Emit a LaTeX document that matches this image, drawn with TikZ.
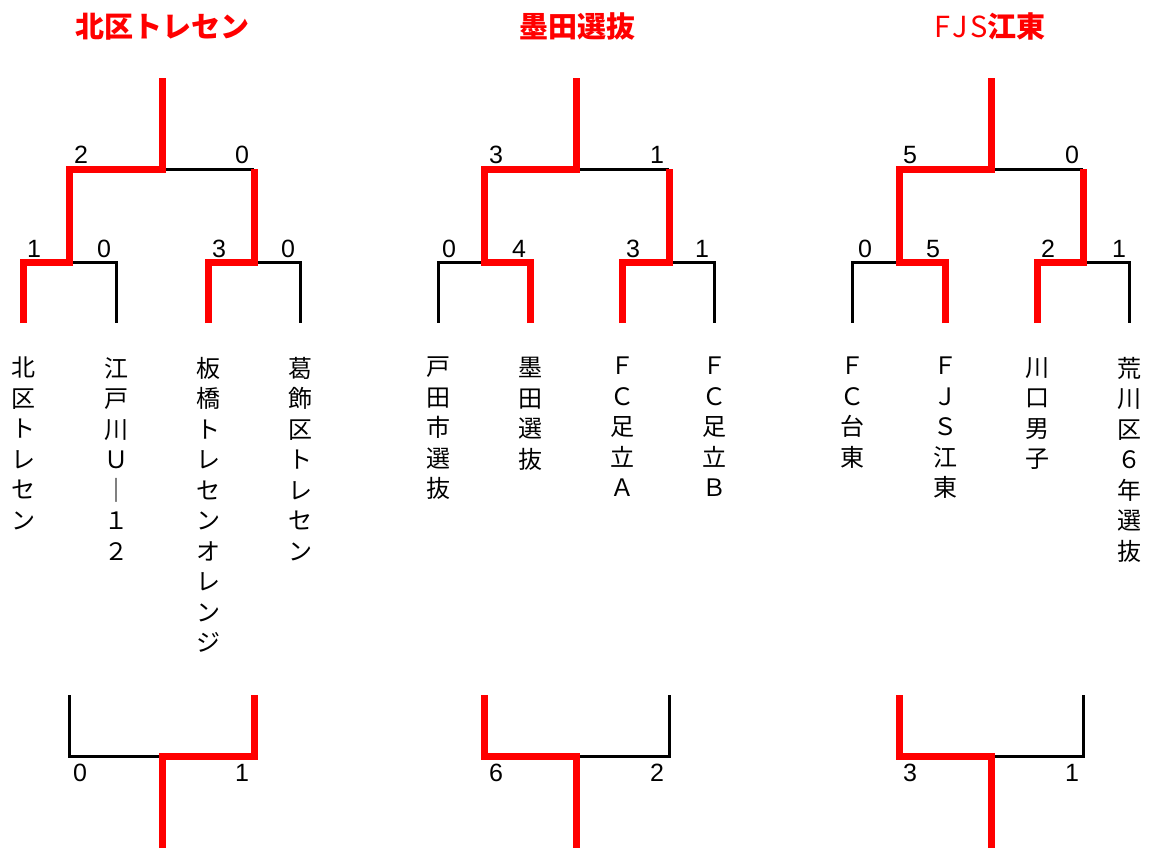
\documentclass[tikz,border=0pt]{standalone}
\usepackage{fontspec}
\setmainfont{Liberation Sans}
\newfontfamily\jp{Noto Sans CJK JP}
\newcommand\defbracket[8]{%
  \coordinate (#1-1) at (#2,323); \coordinate (#1-1u) at (#2,262);
  \coordinate (#1-2) at (#3,323); \coordinate (#1-2u) at (#3,262);
  \coordinate (#1-3) at (#4,323); \coordinate (#1-3u) at (#4,262);
  \coordinate (#1-4) at (#5,323); \coordinate (#1-4u) at (#5,262);
  \coordinate (#1-j1) at (#6,262); \coordinate (#1-j1u) at (#6,169);
  \coordinate (#1-j2) at (#7,262); \coordinate (#1-j2u) at (#7,169);
  \coordinate (#1-t) at (#8,169); \coordinate (#1-tu) at (#8,78);
  \coordinate (#1-fl) at (#6,695); \coordinate (#1-flb) at (#6,756);
  \coordinate (#1-fr) at (#7,695); \coordinate (#1-frb) at (#7,756);
  \coordinate (#1-fc) at (#8,756); \coordinate (#1-fcb) at (#8,850);
}
\begin{document}
\begin{tikzpicture}[x=1pt,y=-1pt,
  win/.style={draw=red,line width=7pt,line join=miter},
  lose/.style={draw=black,line width=3pt,line join=miter},
  score/.style={font=\fontsize{25}{30}\selectfont,anchor=base,inner sep=0},
  team/.style={font=\jp\fontsize{24}{30.5}\selectfont,anchor=north,inner sep=0,align=center,
    execute at begin node={\vphantom{国}}},
  title/.style={font=\jp\bfseries\fontsize{29}{34}\selectfont,text=red,anchor=base,inner sep=0}]
\useasboundingbox (0,0) rectangle (1149,847);

\defbracket{A}{23}{116}{208}{300}{69}{254}{162}
\defbracket{B}{438}{530}{622}{714}{484}{669}{576}
\defbracket{C}{852}{945}{1037}{1129}{899}{1083}{991}

% titles
\node[title] (tA) at (162,37.5) {北区トレセン};
\node[title] (tB) at (577,37.5) {墨田選抜};
\node[title] (tC) at (990,37.5) {{\mdseries F\kern2pt J\kern2pt S}江東};

% bracket A
\draw[lose] (A-j1) -- (A-2u) -- (A-2);
\draw[lose] (A-j2) -- (A-4u) -- (A-4);
\draw[lose] (A-t) -- (A-j2u);
\draw[win] (A-1) -- (A-1u) -- (A-j1) -- (A-j1u) -- (A-t) -- (A-tu);
\draw[win] (A-3) -- (A-3u) -- (A-j2) -- (A-j2u);
\draw[lose] (A-fl) -- (A-flb) -- (A-fc);
\draw[win] (A-fr) -- (A-frb) -- (A-fc) -- (A-fcb);

% bracket B
\draw[lose] (B-j1) -- (B-1u) -- (B-1);
\draw[lose] (B-j2) -- (B-4u) -- (B-4);
\draw[lose] (B-t) -- (B-j2u);
\draw[win] (B-2) -- (B-2u) -- (B-j1) -- (B-j1u) -- (B-t) -- (B-tu);
\draw[win] (B-3) -- (B-3u) -- (B-j2) -- (B-j2u);
\draw[lose] (B-fr) -- (B-frb) -- (B-fc);
\draw[win] (B-fl) -- (B-flb) -- (B-fc) -- (B-fcb);

% bracket C
\draw[lose] (C-j1) -- (C-1u) -- (C-1);
\draw[lose] (C-j2) -- (C-4u) -- (C-4);
\draw[lose] (C-t) -- (C-j2u);
\draw[win] (C-2) -- (C-2u) -- (C-j1) -- (C-j1u) -- (C-t) -- (C-tu);
\draw[win] (C-3) -- (C-3u) -- (C-j2) -- (C-j2u);
\draw[lose] (C-fr) -- (C-frb) -- (C-fc);
\draw[win] (C-fl) -- (C-flb) -- (C-fc) -- (C-fcb);

% scores A
\node[score] (sA1) at (81,163) {2};
\node[score] (sA2) at (242,163) {0};
\node[score] (sA3) at (34,257) {1};
\node[score] (sA4) at (104,257) {0};
\node[score] (sA5) at (219,257) {3};
\node[score] (sA6) at (288,257) {0};
\node[score] (sA7) at (80,781) {0};
\node[score] (sA8) at (242,781) {1};
% scores B
\node[score] (sB1) at (496,163) {3};
\node[score] (sB2) at (657,163) {1};
\node[score] (sB3) at (449,257) {0};
\node[score] (sB4) at (519,257) {4};
\node[score] (sB5) at (633,257) {3};
\node[score] (sB6) at (702,257) {1};
\node[score] (sB7) at (496,781) {6};
\node[score] (sB8) at (657,781) {2};
% scores C
\node[score] (sC1) at (910,163) {5};
\node[score] (sC2) at (1072,163) {0};
\node[score] (sC3) at (865,257) {0};
\node[score] (sC4) at (933,257) {5};
\node[score] (sC5) at (1048,257) {2};
\node[score] (sC6) at (1119,257) {1};
\node[score] (sC7) at (910,781) {3};
\node[score] (sC8) at (1072,781) {1};

% teams
\node[team] (nA1) at (23,357) {北\\区\\ト\\レ\\セ\\ン};
\node[team] (nA2) at (116,357) {江\\戸\\川\\Ｕ\\｜\\１\\２};
\node[team] (nA3) at (208,357) {板\\橋\\ト\\レ\\セ\\ン\\オ\\レ\\ン\\ジ};
\node[team] (nA4) at (300,357) {葛\\飾\\区\\ト\\レ\\セ\\ン};
\node[team] (nB1) at (438,357) {戸\\田\\市\\選\\抜};
\node[team] (nB2) at (530,357) {墨\\田\\選\\抜};
\node[team] (nB3) at (622,357) {Ｆ\\Ｃ\\足\\立\\Ａ};
\node[team] (nB4) at (714,357) {Ｆ\\Ｃ\\足\\立\\Ｂ};
\node[team] (nC1) at (852,357) {Ｆ\\Ｃ\\台\\東};
\node[team] (nC2) at (945,357) {Ｆ\\Ｊ\\Ｓ\\江\\東};
\node[team] (nC3) at (1037,357) {川\\口\\男\\子};
\node[team] (nC4) at (1129,357) {荒\\川\\区\\６\\年\\選\\抜};
\end{tikzpicture}
\end{document}
